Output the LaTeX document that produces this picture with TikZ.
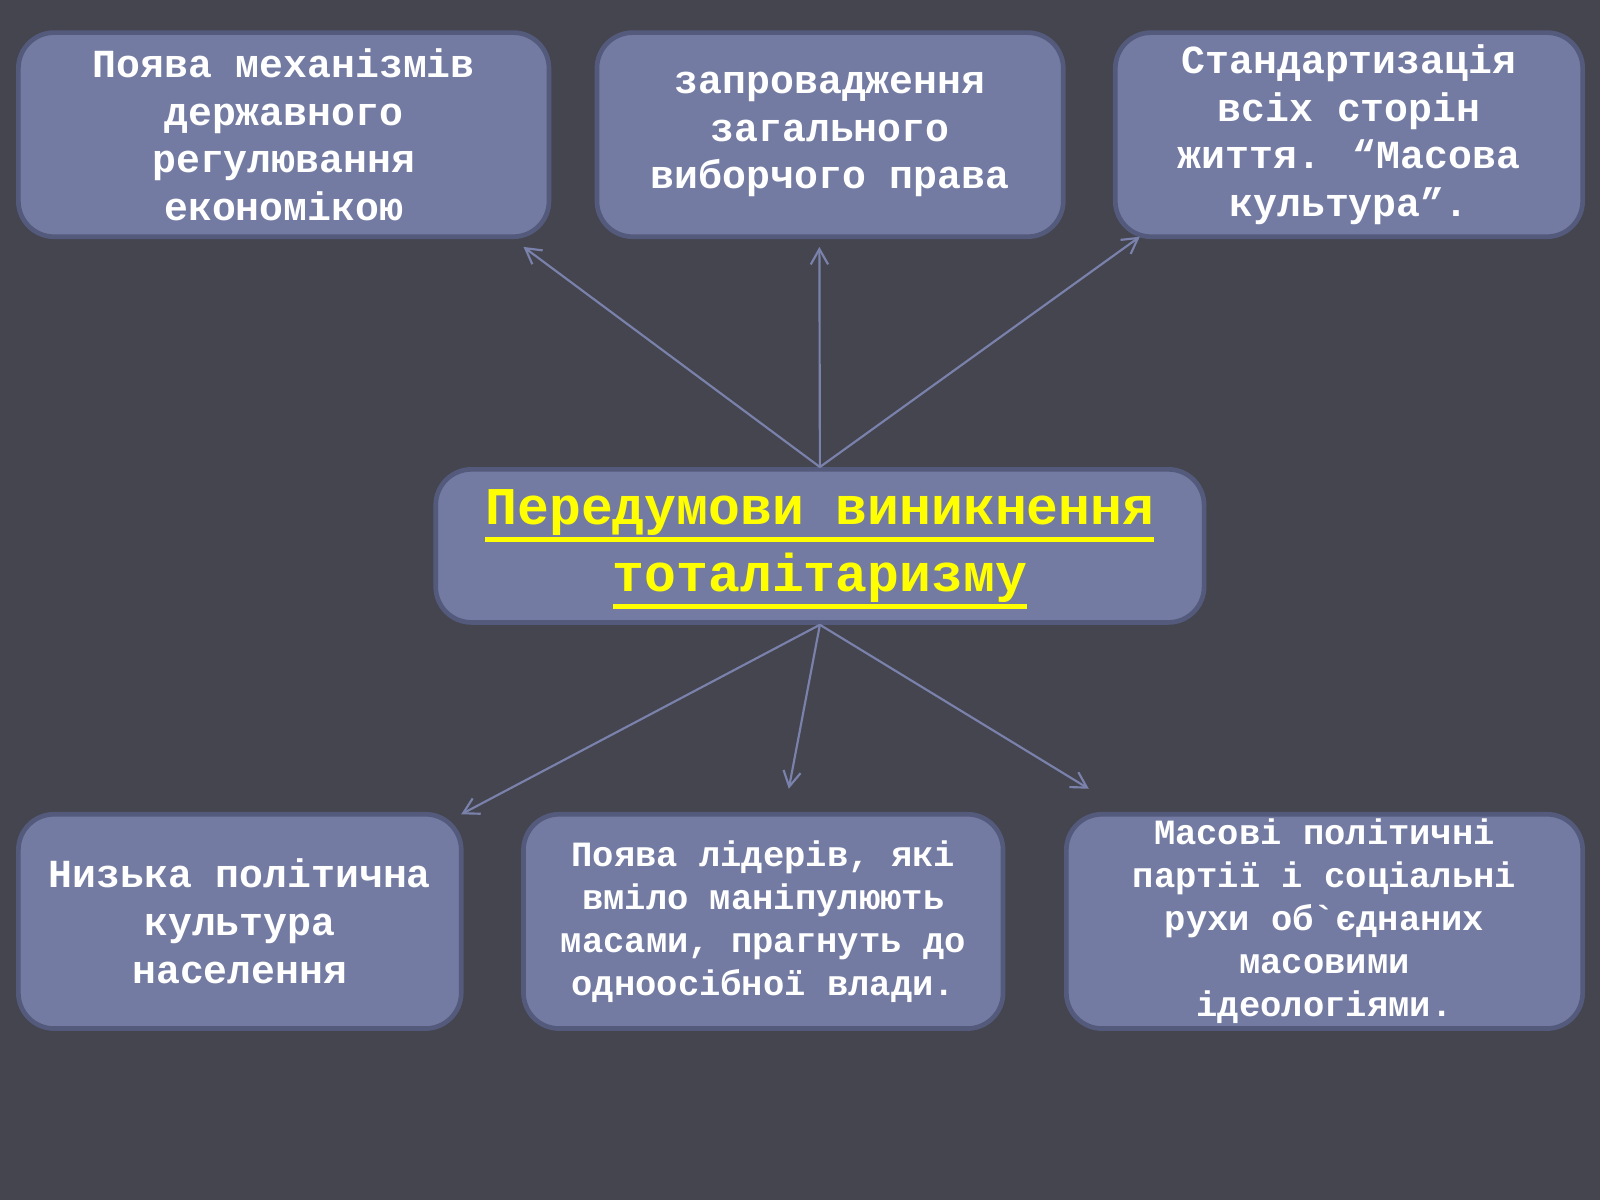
\documentclass[tikz,border=0pt]{standalone}
\usepackage{fontspec}
\usepackage{tikz}
\usetikzlibrary{shapes, arrows.meta, positioning, calc}
\newfontfamily\boxfont{Liberation Mono}
\definecolor{slidebg}{RGB}{69,69,80}
\definecolor{boxfill}{RGB}{115,123,163}
\definecolor{boxline}{RGB}{84,90,124}
\definecolor{arrowline}{RGB}{122,130,172}
\definecolor{titleyellow}{RGB}{255,255,0}
\newsavebox{\titlebox}
\newcommand{\titleline}[1]{\sbox{\titlebox}{#1}\rlap{\smash{\rule[-5pt]{\wd\titlebox}{1.4pt}}}\usebox{\titlebox}}
\tikzstyle{topbox} = [rectangle, rounded corners=0.35cm, minimum height=2cm, inner sep=0pt, align=center, draw=boxline, line width=1.3pt, fill=boxfill, text=white, font=\boxfont\bfseries\fontsize{11.1}{13.3}\selectfont]
\tikzstyle{bottombox} = [topbox, minimum height=2.1cm]
\tikzstyle{smallbox} = [bottombox, font=\boxfont\bfseries\fontsize{9.9}{12}\selectfont]
\tikzstyle{mainbox} = [topbox, minimum width=7.53cm, minimum height=1.5cm, text=titleyellow, font=\boxfont\bfseries\fontsize{14.8}{18.6}\selectfont]
\tikzstyle{link} = [draw=arrowline, line width=0.6pt, -{Straight Barb[length=1.5mm, width=1.7mm]}]

\begin{document}
\begin{tikzpicture}
\fill[slidebg] (0,0.24) rectangle (15.68,12);
\useasboundingbox (0,0.24) rectangle (15.68,12);

\node (main) [mainbox] at (8.035,6.65) {\titleline{Передумови виникнення}\\\titleline{тоталітаризму}};
\node (regul) [topbox, minimum width=5.2cm] at (2.78,10.68) {Поява механізмів\\державного\\регулювання\\економікою};
\node (vote) [topbox, minimum width=4.57cm] at (8.135,10.68) {запровадження\\загального\\виборчого права};
\node (standard) [topbox, minimum width=4.58cm] at (13.22,10.68) {Стандартизація\\всіх сторін\\життя. “Масова\\культура”.};
\node (culture) [bottombox, minimum width=4.34cm] at (2.35,2.97) {Низька політична\\культура\\населення};
\node (leaders) [smallbox, minimum width=4.7cm] at (7.48,2.97) {Поява лідерів, які\\вміло маніпулюють\\масами, прагнуть до\\одноосібної влади.};
\node (parties) [smallbox, minimum width=5.06cm] at (12.98,2.97) {Масові політичні\\партії і соціальні\\рухи об\symbol{96}єднаних\\масовими\\ідеологіями.};

\coordinate (regulend) at (5.13,9.58);
\coordinate (voteend) at (8.03,9.58);
\coordinate (standardend) at (11.17,9.68);
\coordinate (cultureend) at (4.52,4.02);
\coordinate (leadersend) at (7.73,4.27);
\coordinate (partiesend) at (10.67,4.27);

\draw[link] (main.north) -- (regulend);
\draw[link] (main.north) -- (voteend);
\draw[link] (main.north) -- (standardend);
\draw[link] (main.south) -- (cultureend);
\draw[link] (main.south) -- (leadersend);
\draw[link] (main.south) -- (partiesend);
\end{tikzpicture}
\end{document}
